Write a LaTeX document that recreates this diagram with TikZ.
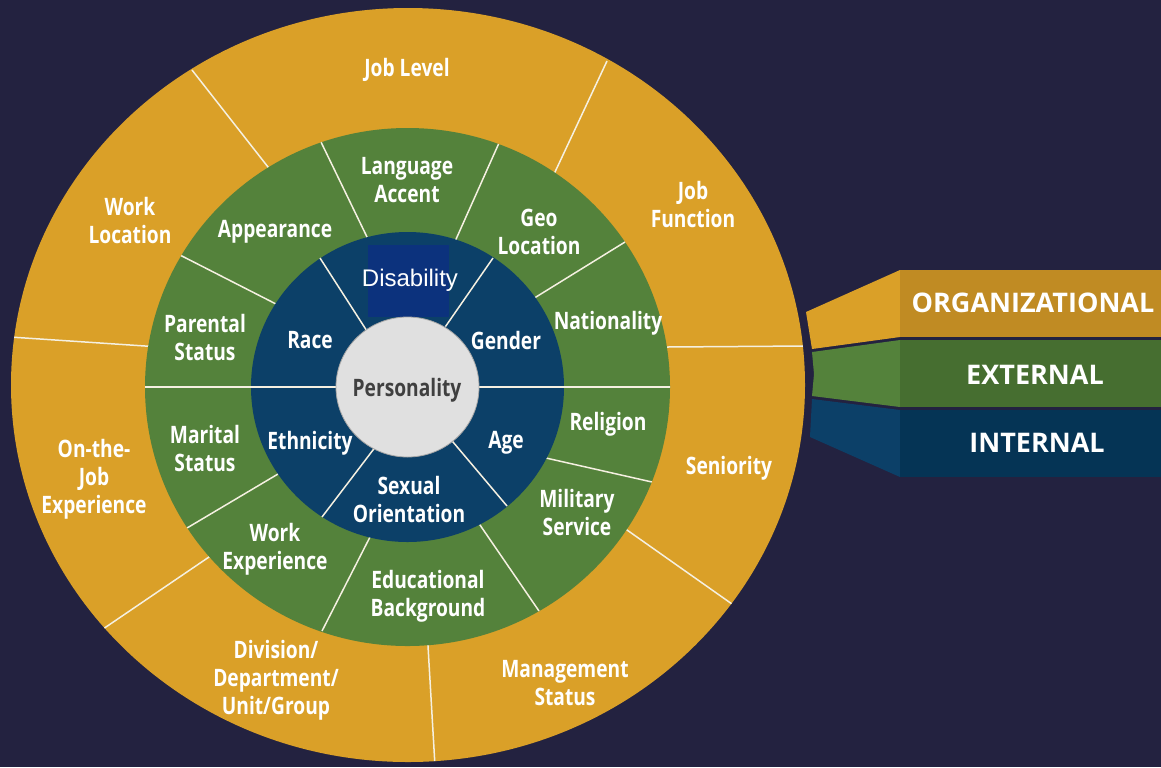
\documentclass[tikz,border=0pt]{standalone}
\usepackage{fontspec}
\newfontfamily\wheelfont{Open Sans}[FakeStretch=0.8]
\newfontfamily\tagfont{Open Sans}
\newfontfamily\plainfont{Liberation Sans}

\definecolor{bgnavy}{RGB}{35,34,64}
\definecolor{orgfill}{RGB}{218,160,40}
\definecolor{orgbox}{RGB}{192,139,35}
\definecolor{extfill}{RGB}{84,130,59}
\definecolor{extbox}{RGB}{70,110,48}
\definecolor{intfill}{RGB}{12,64,104}
\definecolor{intbox}{RGB}{5,52,85}
\definecolor{disbox}{RGB}{12,50,125}
\definecolor{corefill}{RGB}{224,224,224}
\definecolor{coretext}{RGB}{64,64,64}
\definecolor{linecream}{RGB}{245,240,225}

\begin{document}
\begin{tikzpicture}[x=0.5pt,y=-0.5pt,
  lbl/.style={font=\wheelfont\bfseries\fontsize{12}{14}\selectfont,
              text=white,align=center,inner sep=0pt,yshift=-1pt},
  divider/.style={draw=linecream,line width=0.75pt},
  tagtext/.style={font=\tagfont\bfseries\fontsize{13.5}{15}\selectfont,
                  text=white,inner sep=0pt},
]

% Backdrop
\fill[bgnavy] (0,0) rectangle (1161,767);
\useasboundingbox (0,0) rectangle (1161,767);

\coordinate (orgc) at (408,385);
\coordinate (c) at (407.5,387);

% Organizational ring
\fill[orgfill] (orgc) ellipse [x radius=198.5pt,y radius=188.5pt];
\begin{scope}
  \clip (orgc) ellipse [x radius=198.5pt,y radius=188.5pt];
  \foreach \xa/\ya/\xb/\yb in {192/70/268/167, 607/61/555/172, 806/346/667/347,
      732/604/627/530, 435/766/428/646, 103/629/209/557, 10/337/145/346}
    \draw[divider,shorten >=-4pt] (\xa,\ya) -- (\xb,\yb);
\end{scope}

% External ring
\fill[extfill] (c) ellipse [x radius=131.25pt,y radius=129.5pt];
\begin{scope}
  \clip (c) ellipse [x radius=131.25pt,y radius=129.5pt];
  \foreach \xa/\ya/\xb/\yb in {178/254/276/304, 321/142/367/237, 499/143/457/237,
      625/242/536/297, 652/482/546/458, 539/611/480/525, 322/631/370/537,
      187/528/278/474}
    \draw[divider,shorten >=-4pt] (\xa,\ya) -- (\xb,\yb);
\end{scope}

% Internal ring
\fill[intfill] (c) ellipse [x radius=78.25pt,y radius=77.5pt];
\begin{scope}
  \clip (c) ellipse [x radius=131.25pt,y radius=129.5pt];
  \draw[divider] (140,387) -- (675,387);
  \foreach \xa/\ya/\xb/\yb in {320/258/365/328, 493/258/450/320,
      507/506/453/442, 322/517/373/450}
    \draw[divider,shorten >=-4pt] (\xa,\ya) -- (\xb,\yb);
\end{scope}
\fill[disbox] (368,245) rectangle (449,317);

% Core
\fill[corefill,draw=gray!70,line width=0.4pt] (c) ellipse [x radius=35.75pt,y radius=35pt];
\node[lbl,text=coretext] (personality) at (407,388) {Personality};

% Internal labels
\node[font=\plainfont\fontsize{12}{14}\selectfont,text=white,inner sep=0pt]
  (disability) at (410,280) {Disability};
\node[lbl] (race) at (310,338) {Race};
\node[lbl] (gender) at (506,338) {Gender};
\node[lbl] (ethnicity) at (310,441) {Ethnicity};
\node[lbl] (age) at (506,441) {Age};
\node[lbl] (sexual) at (409,497) {Sexual\\Orientation};

% External labels
\node[lbl] (language) at (407,178) {Language\\Accent};
\node[lbl] (appearance) at (275,230) {Appearance};
\node[lbl] (geo) at (539,230) {Geo\\Location};
\node[lbl] (parental) at (205,335) {Parental\\Status};
\node[lbl] (nationality) at (608,321) {Nationality};
\node[lbl] (religion) at (608,422) {Religion};
\node[lbl] (marital) at (205,446) {Marital\\Status};
\node[lbl] (military) at (577,510) {Military\\Service};
\node[lbl] (workexp) at (275,547) {Work\\Experience};
\node[lbl] (education) at (428,594) {Educational\\Background};

% Organizational labels
\node[lbl] (joblevel) at (407,68) {Job Level};
\node[lbl] (workloc) at (130,218) {Work\\Location};
\node[lbl] (jobfunc) at (693,202) {Job\\Function};
\node[lbl] (seniority) at (729,466) {Seniority};
\node[lbl] (mgmt) at (565,681) {Management\\Status};
\node[lbl] (division) at (276,678) {Division/\\Department/\\Unit/Group};
\node[lbl] (onjob) at (94,477) {On-the-\\Job\\Experience};

% Legend bands
\fill[orgfill] (806,312) -- (900,270) -- (900,337) -- (812,349) -- cycle;
\fill[orgbox] (900,270) rectangle (1161,337);
\fill[extfill] (812,352) -- (900,340) -- (900,407) -- (812,396) -- (814,374) -- cycle;
\fill[extbox] (900,340) rectangle (1161,407);
\fill[intfill] (812,399) -- (900,410) -- (900,477) -- (810,437) -- cycle;
\fill[intbox] (900,410) rectangle (1161,477);
\node[tagtext] (orgtag) at (1033,303) {ORGANIZATIONAL};
\node[tagtext] (exttag) at (1035,375) {EXTERNAL};
\node[tagtext] (inttag) at (1037,443) {INTERNAL};

\end{tikzpicture}
\end{document}
